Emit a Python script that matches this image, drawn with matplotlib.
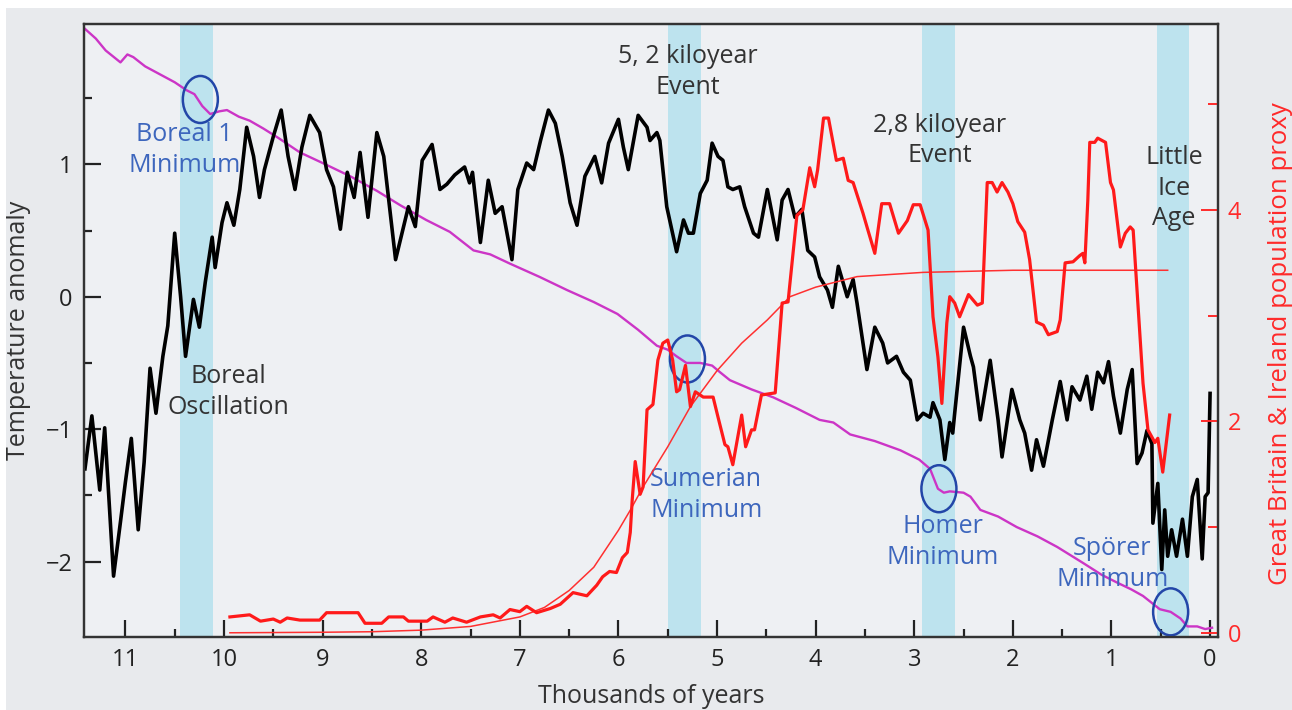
import numpy as np
import matplotlib
matplotlib.use('Agg')
import matplotlib.pyplot as plt
from matplotlib.patches import Ellipse, Rectangle

plt.rcParams['font.family'] = ['Open Sans', 'DejaVu Sans']

# temperature anomaly (black), thousands of years before present
temp_x = [11.41, 11.34, 11.26, 11.21, 11.12, 11.05, 11.00, 10.94, 10.87, 10.81,
          10.75, 10.69, 10.62, 10.57, 10.50, 10.44, 10.39, 10.31, 10.25, 10.19,
          10.12, 10.09, 10.02, 9.97, 9.90, 9.84, 9.77, 9.70, 9.64, 9.59,
          9.50, 9.42, 9.35, 9.28, 9.21, 9.13, 9.03, 8.96, 8.89, 8.82,
          8.75, 8.68, 8.62, 8.54, 8.45, 8.38, 8.26, 8.13, 8.06, 7.99,
          7.89, 7.81, 7.74, 7.66, 7.56, 7.51, 7.48, 7.40, 7.32, 7.25,
          7.18, 7.08, 7.02, 6.93, 6.86, 6.79, 6.71, 6.64, 6.57, 6.49,
          6.42, 6.34, 6.24, 6.17, 6.10, 6.00, 5.95, 5.90, 5.80, 5.71,
          5.68, 5.61, 5.58, 5.51, 5.41, 5.34, 5.29, 5.24, 5.17, 5.10,
          5.05, 4.99, 4.94, 4.89, 4.84, 4.77, 4.72, 4.63, 4.58, 4.49,
          4.39, 4.34, 4.28, 4.21, 4.14, 4.08, 4.01, 3.96, 3.88, 3.83,
          3.77, 3.68, 3.62, 3.58, 3.48, 3.40, 3.32, 3.27, 3.18, 3.11,
          3.04, 2.97, 2.91, 2.84, 2.81, 2.74, 2.69, 2.64, 2.61, 2.59,
          2.50, 2.43, 2.40, 2.33, 2.23, 2.15, 2.11, 2.01, 1.93, 1.88,
          1.81, 1.76, 1.69, 1.60, 1.52, 1.45, 1.40, 1.32, 1.25, 1.20,
          1.14, 1.08, 1.03, 0.98, 0.91, 0.84, 0.79, 0.74, 0.69, 0.64,
          0.59, 0.58, 0.53, 0.49, 0.46, 0.43, 0.39, 0.34, 0.28, 0.23,
          0.18, 0.13, 0.08, 0.05, 0.02, 0.00]
temp_y = [-1.30, -0.90, -1.46, -0.99, -2.11, -1.70, -1.40, -1.07, -1.76, -1.25,
          -0.54, -0.88, -0.45, -0.22, 0.48, 0.00, -0.45, -0.02, -0.23, 0.11,
          0.45, 0.22, 0.56, 0.71, 0.54, 0.81, 1.28, 1.06, 0.75, 0.96,
          1.21, 1.41, 1.06, 0.81, 1.13, 1.37, 1.24, 0.96, 0.83, 0.51,
          0.94, 0.75, 1.09, 0.60, 1.24, 1.06, 0.28, 0.68, 0.53, 1.03,
          1.15, 0.81, 0.85, 0.92, 0.98, 0.86, 0.94, 0.41, 0.88, 0.63,
          0.68, 0.28, 0.81, 1.01, 0.96, 1.18, 1.41, 1.31, 1.06, 0.71,
          0.54, 0.91, 1.06, 0.86, 1.16, 1.34, 1.13, 0.96, 1.37, 1.28,
          1.18, 1.24, 1.18, 0.68, 0.34, 0.58, 0.48, 0.48, 0.78, 0.88,
          1.16, 1.06, 1.03, 0.83, 0.81, 0.83, 0.68, 0.48, 0.45, 0.81,
          0.43, 0.73, 0.81, 0.60, 0.66, 0.35, 0.30, 0.15, 0.05, -0.08,
          0.23, 0.00, 0.13, -0.05, -0.55, -0.23, -0.35, -0.50, -0.45, -0.57,
          -0.63, -0.93, -0.88, -0.91, -0.80, -0.93, -1.23, -0.95, -1.03, -0.88,
          -0.23, -0.45, -0.53, -0.93, -0.48, -0.93, -1.21, -0.70, -0.93, -1.03,
          -1.31, -1.08, -1.28, -0.93, -0.64, -0.93, -0.68, -0.78, -0.60, -0.85,
          -0.57, -0.65, -0.49, -0.75, -1.03, -0.70, -0.55, -1.26, -1.18, -1.01,
          -1.11, -1.71, -1.41, -2.06, -1.61, -1.96, -1.76, -1.96, -1.68, -1.96,
          -1.51, -1.38, -1.98, -1.51, -1.48, -0.73]

# declining trend line (magenta)
trend_x = [11.42, 11.30, 11.20, 11.05, 10.98, 10.92, 10.80, 10.65, 10.50, 10.38,
           10.30, 10.22, 10.14, 10.05, 9.97, 9.85, 9.74, 9.60, 9.45, 9.23,
           9.00, 8.72, 8.45, 8.21, 7.95, 7.71, 7.47, 7.30, 7.10, 6.80,
           6.52, 6.25, 6.01, 5.80, 5.61, 5.50, 5.41, 5.31, 5.17, 5.05,
           4.97, 4.87, 4.65, 4.43, 4.20, 3.96, 3.82, 3.65, 3.40, 3.14,
           2.95, 2.84, 2.76, 2.70, 2.64, 2.50, 2.43, 2.33, 2.15, 1.96,
           1.75, 1.55, 1.29, 1.10, 0.94, 0.80, 0.68, 0.51, 0.40, 0.30,
           0.23, 0.13, 0.05, -0.02]
trend_y = [2.03, 1.95, 1.86, 1.77, 1.83, 1.81, 1.74, 1.68, 1.62, 1.56,
           1.53, 1.44, 1.38, 1.40, 1.41, 1.36, 1.33, 1.27, 1.20, 1.09,
           1.01, 0.91, 0.80, 0.69, 0.58, 0.49, 0.35, 0.32, 0.25, 0.15,
           0.05, -0.04, -0.13, -0.25, -0.37, -0.40, -0.45, -0.50, -0.50, -0.52,
           -0.57, -0.63, -0.70, -0.76, -0.84, -0.93, -0.95, -1.04, -1.09, -1.16,
           -1.23, -1.30, -1.45, -1.48, -1.47, -1.48, -1.51, -1.61, -1.66, -1.74,
           -1.81, -1.89, -2.01, -2.10, -2.16, -2.21, -2.26, -2.36, -2.38, -2.43,
           -2.49, -2.49, -2.51, -2.50]

# Great Britain & Ireland population proxy (red, right axis)
pop_x = [9.94, 9.74, 9.63, 9.50, 9.43, 9.36, 9.23, 9.03, 8.96, 8.64,
         8.57, 8.40, 8.33, 8.18, 8.13, 7.94, 7.88, 7.76, 7.68, 7.54,
         7.40, 7.27, 7.20, 7.10, 7.00, 6.93, 6.83, 6.69, 6.59, 6.46,
         6.32, 6.22, 6.16, 6.09, 6.02, 5.96, 5.91, 5.88, 5.86, 5.83,
         5.78, 5.75, 5.71, 5.65, 5.60, 5.55, 5.50, 5.45, 5.41, 5.38,
         5.32, 5.27, 5.22, 5.14, 5.04, 4.99, 4.92, 4.89, 4.84, 4.75,
         4.71, 4.65, 4.62, 4.55, 4.41, 4.34, 4.28, 4.19, 4.13, 4.06,
         4.01, 3.98, 3.92, 3.87, 3.79, 3.72, 3.67, 3.62, 3.52, 3.47,
         3.40, 3.33, 3.25, 3.16, 3.07, 3.01, 2.94, 2.86, 2.81, 2.76,
         2.72, 2.67, 2.64, 2.59, 2.54, 2.45, 2.36, 2.31, 2.26, 2.21,
         2.16, 2.11, 2.05, 2.00, 1.95, 1.88, 1.83, 1.76, 1.69, 1.64,
         1.55, 1.52, 1.47, 1.39, 1.32, 1.29, 1.27, 1.24, 1.22, 1.17,
         1.14, 1.06, 1.01, 0.98, 0.91, 0.86, 0.81, 0.78, 0.68, 0.63,
         0.56, 0.53, 0.48, 0.41]
pop_y = [0.15, 0.17, 0.11, 0.13, 0.10, 0.14, 0.12, 0.12, 0.19, 0.19,
         0.09, 0.09, 0.15, 0.15, 0.11, 0.11, 0.15, 0.10, 0.14, 0.10,
         0.15, 0.17, 0.14, 0.22, 0.20, 0.25, 0.19, 0.23, 0.27, 0.38,
         0.35, 0.45, 0.53, 0.58, 0.57, 0.71, 0.76, 0.95, 1.26, 1.62,
         1.31, 1.38, 2.11, 2.16, 2.58, 2.74, 2.77, 2.58, 2.28, 2.30,
         2.53, 2.14, 2.28, 2.23, 2.23, 2.04, 1.78, 1.76, 1.59, 2.06,
         1.76, 1.92, 1.92, 2.25, 2.27, 3.12, 3.13, 3.95, 4.00, 4.40,
         4.22, 4.38, 4.87, 4.87, 4.47, 4.49, 4.28, 4.26, 3.97, 3.81,
         3.59, 4.06, 4.06, 3.78, 3.90, 4.05, 4.05, 3.81, 2.99, 2.61,
         2.17, 2.93, 3.18, 3.12, 2.99, 3.20, 3.10, 3.12, 4.26, 4.26,
         4.17, 4.26, 4.17, 4.06, 3.89, 3.79, 3.53, 2.94, 2.91, 2.82,
         2.85, 2.96, 3.50, 3.51, 3.57, 3.59, 3.50, 4.09, 4.64, 4.64,
         4.68, 4.64, 4.26, 4.19, 3.65, 3.78, 3.84, 3.81, 2.36, 1.92,
         1.80, 1.84, 1.52, 2.06]

# fitted growth curve (thin red)
fit_x = [9.94, 9.0, 8.5, 8.0, 7.5, 7.0, 6.75, 6.5, 6.25, 6.0,
         5.88, 5.75, 5.5, 5.27, 5.0, 4.75, 4.49, 4.26, 4.0, 3.58,
         2.91, 2.0, 1.0, 0.43]
fit_y = [0.00, 0.005, 0.01, 0.025, 0.06, 0.15, 0.24, 0.40, 0.62, 0.97,
         1.16, 1.38, 1.76, 2.14, 2.48, 2.74, 2.96, 3.18, 3.27, 3.37,
         3.41, 3.43, 3.43, 3.43]

# cold events (shaded) and solar minima (circles)
bands = [(10.45, 10.11), (5.50, 5.16), (2.92, 2.59), (0.54, 0.21)]
minima_x = [10.24, 5.30, 2.75, 0.40]
minima_y = [1.49, -0.47, -1.45, -2.38]

fig = plt.figure(figsize=(12.92, 7.10), dpi=100)
fig.patch.set_facecolor('#e8eaed')
fig.patches.append(Rectangle((0, 1 - 8 / 710), 1, 8 / 710, transform=fig.transFigure,
                             facecolor='white', edgecolor='none', zorder=0))
fig.patches.append(Rectangle((0, 0), 6 / 1292, 1, transform=fig.transFigure,
                             facecolor='white', edgecolor='none', zorder=0))

ax = fig.add_axes([0.0650, 0.1028, 0.8777, 0.8634])
ax.set_facecolor('#eef0f3')
ax2 = ax.twinx()

for a, b in bands:
    ax.axvspan(a, b, color='#bde3ee', lw=0, zorder=0)

ax.plot(trend_x, trend_y, color='#cc35c6', lw=1.7, zorder=2)
ax.plot(temp_x, temp_y, color='black', lw=2.6, zorder=3)
for cx, cy in zip(minima_x, minima_y):
    ax.add_patch(Ellipse((cx, cy), 0.355, 0.355, fill=False, ec='#2346a8', lw=1.8, zorder=4))

ax2.plot(fit_x, fit_y, color='#ff3030', lw=1.1)
ax2.plot(pop_x, pop_y, color='#ff1a1a', lw=2.3)

ax.set_xlim(11.42, -0.08)
ax.set_ylim(-2.57, 2.06)
ax2.set_ylim(-0.04, 5.76)

ax.set_xticks(range(0, 12))
ax.set_xticks(np.arange(0.5, 11.5, 1.0), minor=True)
ax.set_yticks([-2, -1, 0, 1])
ax.set_yticks([-1.5, -0.5, 0.5, 1.5], minor=True)
ax2.set_yticks([0, 2, 4])
ax2.set_yticks([1, 3, 5], minor=True)

ax.tick_params(which='both', direction='in', top=False, right=False, colors='#222222', labelsize=17, pad=8)
ax.tick_params(which='major', length=12, width=1.6)
ax.tick_params(which='minor', length=6, width=1.6)
ax2.tick_params(which='both', direction='in', colors='#ff2a2a', labelsize=17, pad=7)
ax2.tick_params(which='major', length=12, width=1.4)
ax2.tick_params(which='minor', length=7, width=1.4)

for a in (ax, ax2):
    for s in a.spines.values():
        s.set_color('#333333')
        s.set_linewidth(1.6)

ax.set_xlabel('Thousands of years', fontsize=18, color='#333333')
ax.xaxis.set_label_coords(0.5, -0.077)
ax.set_ylabel('Temperature anomaly', fontsize=18, color='#333333')
ax.yaxis.set_label_coords(-0.047, 0.5)
ax2.set_ylabel('Great Britain & Ireland population proxy', fontsize=18.5, color='#ff2a2a')
ax2.yaxis.set_label_coords(1.044, 0.479)

black_txt = '#333333'
blue_txt = '#3d66bd'
labels = [
    ('5, 2 kiloyear\nEvent', 5.30, 1.70, black_txt),
    ('2,8 kiloyear\nEvent', 2.74, 1.18, black_txt),
    ('Little\nIce\nAge', 0.365, 0.82, black_txt),
    ('Boreal\nOscillation', 9.96, -0.72, black_txt),
    ('Boreal 1\nMinimum', 10.40, 1.11, blue_txt),
    ('Sumerian\nMinimum', 5.11, -1.50, blue_txt),
    ('Homer\nMinimum', 2.71, -1.85, blue_txt),
    ('Spörer\nMinimum', 0.99, -2.02, blue_txt),
]
for txt, tx, ty, c in labels:
    ax.text(tx, ty, txt, color=c, fontsize=18, ha='center', va='center',
            multialignment='center', linespacing=1.3, zorder=5)

fig.savefig('out.png', dpi=100, facecolor=fig.get_facecolor())
